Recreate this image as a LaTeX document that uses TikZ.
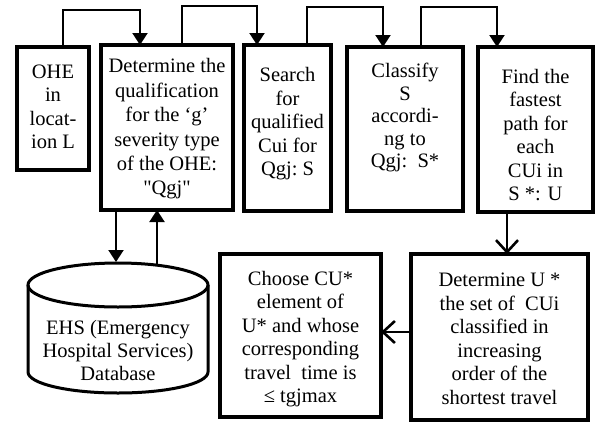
\documentclass[tikz,border=0pt]{standalone}
\usepackage{fontspec}
\setmainfont{Liberation Serif}[Ligatures=TeXOff]
\usetikzlibrary{arrows.meta}
\begin{document}
\begin{tikzpicture}[x=1pt,y=-1pt,
  box/.style={draw=black,line width=4pt,rectangle,inner sep=0pt,outer sep=0pt,fill=white},
  txt/.style={align=center,inner sep=0pt,font=\fontsize{20.5}{23.5}\selectfont},
  conn/.style={draw=black,line width=2pt},
  tri/.style={conn,-{Triangle[width=15pt,length=12pt]}},
  vee/.style={conn,line width=2.6pt,-{Straight Barb[width=22pt,length=12pt,line width=2.6pt]}}]
\useasboundingbox (0,0) rectangle (597,426);
% boxes
\node[box,minimum width=72pt,minimum height=123pt] (b1) at (53,108.5) {};
\node[box,minimum width=132pt,minimum height=165pt] (b2) at (167,127.5) {};
\node[box,minimum width=87pt,minimum height=166pt] (b3) at (287.5,128) {};
\node[box,minimum width=116pt,minimum height=164pt] (b4) at (405,129) {};
\node[box,minimum width=115pt,minimum height=165pt] (b5) at (535.5,129.5) {};
\node[box,minimum width=177pt,minimum height=166pt] (b6) at (499.5,337) {};
\node[box,minimum width=161pt,minimum height=163pt] (b7) at (300.5,335.5) {};
% texts
\node[txt] (t1) at (53,107) {OHE\\in\\locat-\\ion L};
\node[txt,font=\fontsize{20.5}{24.4}\selectfont] (t2) at (167,129) {Determine the\\qualification\\for the ‘g’\\severity type\\of the OHE:\\"Qgj"};
\node[txt] (t3) at (287.5,124) {Search\\for\\qualified\\Cui for\\Qgj:\ S};
\node[txt,font=\fontsize{20.5}{22.5}\selectfont] (t4) at (405,117.5) {Classify\\S\\accordi-\\ng to\\Qgj:\ \ S*};
\node[txt] (t5) at (535.5,135) {Find the\\fastest\\path for\\each\\CUi in\\S *: U};
\node[txt] (t6) at (499.5,339) {Determine U *\\the set of\ \ CUi\\classified in\\increasing\\order of the\\shortest travel};
\node[txt] (t7) at (300.5,339) {Choose CU*\\element of\\U* and whose\\corresponding\\travel\ \ time is\\≤ tgjmax};
% database cylinder
\draw[line width=3pt] (28,285) -- (28,372) arc[start angle=180,end angle=360,x radius=90pt,y radius=21pt] -- (208,285);
\draw[line width=3pt] (118,285) ellipse[x radius=90pt,y radius=22pt];
\node[txt,font=\fontsize{20.5}{23}\selectfont] (db) at (118,350) {EHS (Emergency\\Hospital Services)\\Database};
\coordinate (dbin) at (116,262);
\coordinate (dbout) at (157,265);
% top connectors
\draw[tri] ([xshift=10pt]b1.north) -- ++(0,-37) -| ([xshift=-27pt]b2.north);
\draw[tri] ([xshift=15pt]b2.north) -- ++(0,-39) -| ([xshift=-30.5pt]b3.north);
\draw[tri] ([xshift=19.5pt]b3.north) -- ++(0,-38) -| ([xshift=-22pt]b4.north);
\draw[tri] ([xshift=16pt]b4.north) -- ++(0,-40) -| ([xshift=-38.5pt]b5.north);
% database links
\draw[tri] ([xshift=-51pt]b2.south) -- (dbin);
\draw[tri] (dbout) -- (dbout |- b2.south);
% bottom flow
\draw[vee] ([xshift=-28.5pt]b5.south) -- ([xshift=-28.5pt]b5.south |- b6.north);
\draw[vee] ([yshift=5pt]b6.west) -- ([yshift=5pt]b6.west -| b7.east);
\end{tikzpicture}
\end{document}
